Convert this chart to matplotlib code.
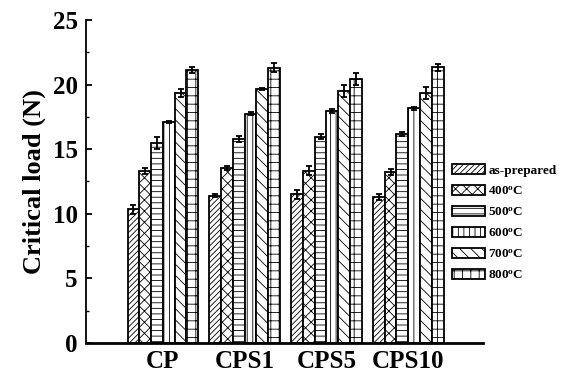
import numpy as np
import matplotlib
matplotlib.use('Agg')
import matplotlib.pyplot as plt

plt.rcParams['font.family'] = 'Liberation Serif'
plt.rcParams['font.weight'] = 'bold'
plt.rcParams['hatch.linewidth'] = 0.6
plt.rcParams['mathtext.fontset'] = 'custom'
plt.rcParams['mathtext.rm'] = 'Liberation Serif:bold'
plt.rcParams['mathtext.it'] = 'Liberation Serif:bold'

# samples and treatments
samples = ['CP', 'CPS1', 'CPS5', 'CPS10']
labels = ['as-prepared', '400$^{\\rm o}$C', '500$^{\\rm o}$C',
          '600$^{\\rm o}$C', '700$^{\\rm o}$C', '800$^{\\rm o}$C']
hatches = ['//////', 'xxx', '---', '|||', '\\\\\\', '++']

# critical load (N), one row per treatment
as_prepared = [10.35, 11.40, 11.51, 11.30]
t400 = [13.30, 13.52, 13.33, 13.23]
t500 = [15.50, 15.80, 15.97, 16.15]
t600 = [17.10, 17.75, 17.95, 18.15]
t700 = [19.35, 19.68, 19.50, 19.35]
t800 = [21.15, 21.30, 20.45, 21.33]

err_as = [0.35, 0.10, 0.35, 0.25]
err400 = [0.25, 0.15, 0.35, 0.25]
err500 = [0.45, 0.25, 0.20, 0.15]
err600 = [0.10, 0.12, 0.15, 0.15]
err700 = [0.30, 0.08, 0.45, 0.50]
err800 = [0.22, 0.35, 0.45, 0.25]

values = [as_prepared, t400, t500, t600, t700, t800]
errors = [err_as, err400, err500, err600, err700, err800]

fig = plt.figure(figsize=(5.71, 3.75), dpi=100)
ax = fig.add_axes([0.1506, 0.0853, 0.6954, 0.8614])

x = np.arange(len(samples))
w = 0.144
for i in range(6):
    ax.bar(x + (i - 2.5) * w, values[i], w, color='white', edgecolor='black',
           linewidth=1.3, hatch=hatches[i], label=labels[i], zorder=2)
    ax.errorbar(x + (i - 2.5) * w, values[i], yerr=errors[i], fmt='none',
                ecolor='black', elinewidth=1.3, capsize=2.5, capthick=1.3, zorder=3)

ax.set_xlim(-0.94, 3.915)
ax.set_ylim(0, 25)
ax.set_yticks([0, 5, 10, 15, 20, 25])
ax.set_yticks(np.arange(0, 25, 2.5), minor=True)
ax.set_xticks(x)
ax.set_xticklabels(samples, fontsize=18, fontweight='bold')
ax.tick_params(axis='x', length=0, pad=5)
ax.tick_params(axis='y', which='major', direction='in', length=4, width=1.3, labelsize=18, pad=6)
ax.tick_params(axis='y', which='minor', direction='in', length=2.5, width=1.0)
for t in ax.get_yticklabels():
    t.set_fontweight('bold')
ax.spines['top'].set_visible(False)
ax.spines['right'].set_visible(False)
ax.spines['left'].set_linewidth(1.3)
ax.spines['bottom'].set_linewidth(2)
ax.set_ylabel('Critical load (N)', fontsize=19, fontweight='bold', labelpad=5)

fig.legend(loc='upper left', bbox_to_anchor=(0.771, 0.595), frameon=False,
           prop={'weight': 'bold', 'size': 9.5}, handlelength=2.5, handleheight=0.85,
           handletextpad=0.25, labelspacing=0.62)

fig.savefig('out.png', dpi=100)
